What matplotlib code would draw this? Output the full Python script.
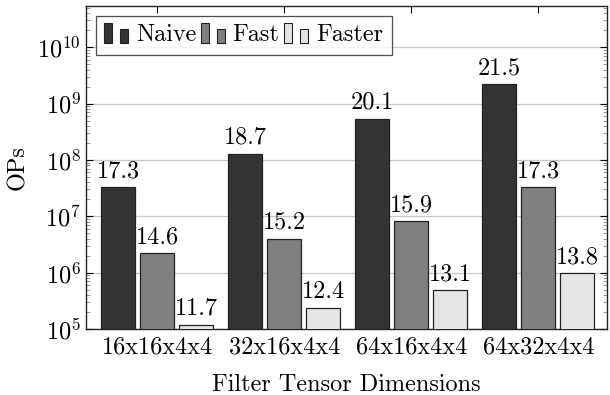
import numpy as np
import matplotlib
matplotlib.use("Agg")
import matplotlib.pyplot as plt
from matplotlib.patches import Rectangle
from matplotlib.legend_handler import HandlerBase
from matplotlib.ticker import LogLocator

plt.rcParams['font.family'] = 'serif'
plt.rcParams['font.serif'] = ['cmr10']
plt.rcParams['mathtext.fontset'] = 'cm'
plt.rcParams['axes.formatter.use_mathtext'] = True

categories = ["16x16x4x4", "32x16x4x4", "64x16x4x4", "64x32x4x4"]
series_names = ["Naive", "Fast", "Faster"]
naive = [3.3e7, 1.3e8, 5.4e8, 2.2e9]
fast = [2.2e6, 4.0e6, 8.1e6, 3.3e7]
faster = [1.2e5, 2.4e5, 4.9e5, 9.8e5]
naive_labels = ["17.3", "18.7", "20.1", "21.5"]
fast_labels = ["14.6", "15.2", "15.9", "17.3"]
faster_labels = ["11.7", "12.4", "13.1", "13.8"]

colors = ["#333333", "#808080", "#e5e5e5"]
FS = 17.5

fig = plt.figure(figsize=(6.1, 3.95), dpi=100)
ax = fig.add_axes([0.141, 0.167, 0.854, 0.818])

x = np.arange(len(categories))
step = 0.307
width = 0.268
series = [naive, fast, faster]
labels = [naive_labels, fast_labels, faster_labels]
handles = []
for i, (vals, labs, c, name) in enumerate(zip(series, labels, colors, series_names)):
    pos = x + (i - 1) * step
    bars = ax.bar(pos, vals, width, color=c, edgecolor="#222222", linewidth=0.9,
                  label=name, zorder=3)
    handles.append(bars)
    for p, v, t in zip(pos, vals, labs):
        ax.annotate(t, (p, v), xytext=(0, 3.5), textcoords="offset points",
                    ha="center", va="bottom", fontsize=FS)

ax.set_yscale("log")
ax.set_ylim(1e5, 5.4e10)
ax.set_xlim(-0.56, 3.54)
ax.set_xticks(x)
ax.set_xticklabels(categories, fontsize=FS)
ax.yaxis.set_major_locator(LogLocator(base=10, numticks=20))
ax.yaxis.set_minor_locator(LogLocator(base=10, subs=np.arange(2, 10), numticks=20))
ax.tick_params(axis="y", which="major", labelsize=FS, direction="in", right=True, length=5)
ax.tick_params(axis="y", which="minor", direction="in", right=True, length=3, color="#888888")
ax.tick_params(axis="x", which="major", direction="in", top=True, length=5, pad=5)
ax.tick_params(axis="x", which="minor", bottom=False, top=False)
ax.grid(axis="y", which="major", color="#c8c8c8", linewidth=0.9, zorder=0)
ax.set_axisbelow(True)
for s in ax.spines.values():
    s.set_linewidth(1.0)
    s.set_color("#222222")

ax.set_ylabel("OPs", fontsize=FS, labelpad=6)
ax.set_xlabel("Filter Tensor Dimensions", fontsize=FS, labelpad=11)


class TwoBarHandler(HandlerBase):
    def create_artists(self, legend, orig_handle, xdescent, ydescent, width, height, fontsize, trans):
        patch = orig_handle.patches[0]
        fc = patch.get_facecolor()
        w = width * 0.3
        r1 = Rectangle((-xdescent, -ydescent - 0.1 * height), w, height * 1.15,
                       facecolor=fc, edgecolor="#222222", linewidth=0.8, transform=trans)
        r2 = Rectangle((-xdescent + width * 0.6, -ydescent - 0.1 * height), w, height * 0.85,
                       facecolor=fc, edgecolor="#222222", linewidth=0.8, transform=trans)
        return [r1, r2]


leg = ax.legend(handles, series_names, loc="upper left", ncol=3, fontsize=FS,
                handler_map={type(handles[0]): TwoBarHandler()},
                handlelength=1.1, handletextpad=0.2, columnspacing=0.2,
                frameon=True, fancybox=False, edgecolor="#222222",
                borderpad=0.35, borderaxespad=0.4)
leg.get_frame().set_linewidth(0.9)

fig.savefig("out.png", dpi=100)
